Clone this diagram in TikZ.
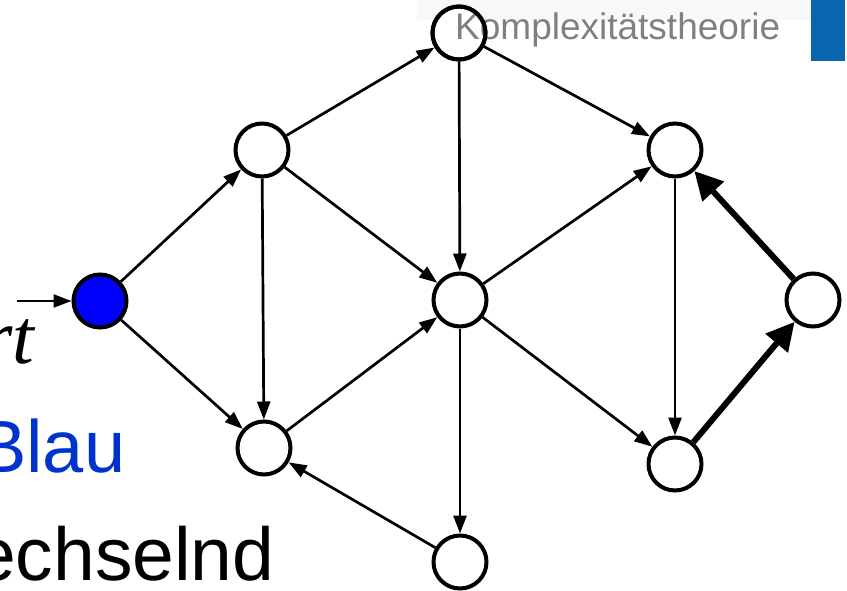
\documentclass[tikz,border=0pt]{standalone}
\usepackage{fontspec}
\setmainfont{Liberation Sans}
\newfontfamily\serifface{Liberation Serif}
\usetikzlibrary{arrows.meta}
\definecolor{hdrblue}{RGB}{8,102,176}
\definecolor{hdrband}{RGB}{248,248,248}
\definecolor{hdrtext}{RGB}{128,128,128}
\definecolor{labelblue}{RGB}{0,51,204}
\begin{document}
\begin{tikzpicture}[x=1pt,y=-1pt,
  vertex/.style={circle,draw,line width=4pt,minimum size=53pt,inner sep=0pt,fill=white},
  edge/.style={line width=2.7pt,-{Triangle[length=18pt,width=13pt]}},
  heavy/.style={line width=6pt,-{Triangle[length=28pt,width=28pt]}},
  bigtext/.style={anchor=base west,inner sep=0pt}]
  % page frame
  \useasboundingbox (0,0) rectangle (847,590);
  % header strip
  \fill[hdrband] (417,0) rectangle (811,20);
  \fill[hdrblue] (811,0) rectangle (845,61);

  % vertices
  \node[vertex,fill=blue] (s) at (100,301) {};
  \node[vertex] (a) at (262,150) {};
  \node[vertex] (b) at (264,448) {};
  \node[vertex] (c) at (459,33) {};
  \node[vertex] (d) at (460,300) {};
  \node[vertex] (e) at (460,562) {};
  \node[vertex] (f) at (675,150) {};
  \node[vertex] (g) at (675,464) {};
  \node[vertex] (h) at (813,300) {};

  % header title over the top vertex
  \node[anchor=base west,inner sep=0pt,text=hdrtext,
        font=\fontsize{37}{40}\selectfont] (title) at (455,39) {Komplexitätstheorie};
  \draw[line width=4pt] (c) circle[radius=26.5pt];

  % start arrow
  \coordinate (in) at (17,301);
  \draw[edge,line width=2.3pt] (in) -- (s);

  % edges
  \draw[edge] (s) -- (a);
  \draw[edge] (s) -- (b);
  \draw[edge] (a) -- (c);
  \draw[edge] (a) -- (b);
  \draw[edge] (a) -- (d);
  \draw[edge] (b) -- (d);
  \draw[edge] (c) -- (d);
  \draw[edge] (c) -- (f);
  \draw[edge] (d) -- (f);
  \draw[edge] (d) -- (g);
  \draw[edge] (d) -- (e);
  \draw[edge] (e) -- (b);
  \draw[edge] (f) -- (g);
  \draw[heavy] (g) -- (h);
  \draw[heavy] (h) -- (f);

  % side labels
  \node[bigtext,font=\serifface\itshape\fontsize{78}{80}\selectfont] (rt) at (-18,363) {rt};
  \node[bigtext,text=labelblue,font=\fontsize{74}{80}\selectfont] (blau) at (-23,472) {Blau};
  \node[bigtext,font=\fontsize{75}{80}\selectfont] (wechsel) at (-26,580) {echselnd};
\end{tikzpicture}
\end{document}
